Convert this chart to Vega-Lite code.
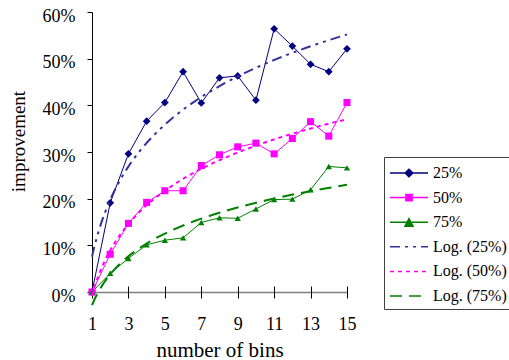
{
  "$schema": "https://vega.github.io/schema/vega-lite/v6.json",
  "width": 255,
  "height": 280,
  "autosize": {"type": "none"},
  "padding": {"left": 92, "top": 12, "right": 162, "bottom": 68},
  "background": "white",
  "config": {
    "font": "Liberation Serif",
    "view": {"stroke": null},
    "axis": {"labelFont": "Liberation Serif", "titleFont": "Liberation Serif", "labelColor": "#000", "titleColor": "#000", "titleFontWeight": "normal", "domainColor": "#000", "tickColor": "#000"}
  },
  "data": {
    "values": [
      {"x": 1, "series": "25%", "trend": "Log. (25%)", "value": 0},
      {"x": 2, "series": "25%", "trend": "Log. (25%)", "value": 19.1},
      {"x": 3, "series": "25%", "trend": "Log. (25%)", "value": 29.6},
      {"x": 4, "series": "25%", "trend": "Log. (25%)", "value": 36.6},
      {"x": 5, "series": "25%", "trend": "Log. (25%)", "value": 40.6},
      {"x": 6, "series": "25%", "trend": "Log. (25%)", "value": 47.2},
      {"x": 7, "series": "25%", "trend": "Log. (25%)", "value": 40.5},
      {"x": 8, "series": "25%", "trend": "Log. (25%)", "value": 45.9},
      {"x": 9, "series": "25%", "trend": "Log. (25%)", "value": 46.3},
      {"x": 10, "series": "25%", "trend": "Log. (25%)", "value": 41.1},
      {"x": 11, "series": "25%", "trend": "Log. (25%)", "value": 56.4},
      {"x": 12, "series": "25%", "trend": "Log. (25%)", "value": 52.7},
      {"x": 13, "series": "25%", "trend": "Log. (25%)", "value": 48.8},
      {"x": 14, "series": "25%", "trend": "Log. (25%)", "value": 47.2},
      {"x": 15, "series": "25%", "trend": "Log. (25%)", "value": 52.1},
      {"x": 1, "series": "50%", "trend": "Log. (50%)", "value": 0},
      {"x": 2, "series": "50%", "trend": "Log. (50%)", "value": 8.1},
      {"x": 3, "series": "50%", "trend": "Log. (50%)", "value": 14.7},
      {"x": 4, "series": "50%", "trend": "Log. (50%)", "value": 19.2},
      {"x": 5, "series": "50%", "trend": "Log. (50%)", "value": 21.7},
      {"x": 6, "series": "50%", "trend": "Log. (50%)", "value": 21.7},
      {"x": 7, "series": "50%", "trend": "Log. (50%)", "value": 27.1},
      {"x": 8, "series": "50%", "trend": "Log. (50%)", "value": 29.4},
      {"x": 9, "series": "50%", "trend": "Log. (50%)", "value": 31.1},
      {"x": 10, "series": "50%", "trend": "Log. (50%)", "value": 31.9},
      {"x": 11, "series": "50%", "trend": "Log. (50%)", "value": 29.6},
      {"x": 12, "series": "50%", "trend": "Log. (50%)", "value": 32.9},
      {"x": 13, "series": "50%", "trend": "Log. (50%)", "value": 36.5},
      {"x": 14, "series": "50%", "trend": "Log. (50%)", "value": 33.4},
      {"x": 15, "series": "50%", "trend": "Log. (50%)", "value": 40.6},
      {"x": 1, "series": "75%", "trend": "Log. (75%)", "value": 0},
      {"x": 2, "series": "75%", "trend": "Log. (75%)", "value": 4.0},
      {"x": 3, "series": "75%", "trend": "Log. (75%)", "value": 7.2},
      {"x": 4, "series": "75%", "trend": "Log. (75%)", "value": 10.1},
      {"x": 5, "series": "75%", "trend": "Log. (75%)", "value": 11.1},
      {"x": 6, "series": "75%", "trend": "Log. (75%)", "value": 11.6},
      {"x": 7, "series": "75%", "trend": "Log. (75%)", "value": 14.9},
      {"x": 8, "series": "75%", "trend": "Log. (75%)", "value": 15.9},
      {"x": 9, "series": "75%", "trend": "Log. (75%)", "value": 15.8},
      {"x": 10, "series": "75%", "trend": "Log. (75%)", "value": 17.8},
      {"x": 11, "series": "75%", "trend": "Log. (75%)", "value": 19.8},
      {"x": 12, "series": "75%", "trend": "Log. (75%)", "value": 19.9},
      {"x": 13, "series": "75%", "trend": "Log. (75%)", "value": 21.9},
      {"x": 14, "series": "75%", "trend": "Log. (75%)", "value": 26.9},
      {"x": 15, "series": "75%", "trend": "Log. (75%)", "value": 26.6}
    ]
  },
  "encoding": {
    "x": {
      "field": "x", "type": "quantitative",
      "scale": {"domain": [1, 15], "nice": false, "zero": false},
      "axis": {"title": "number of bins", "values": [1, 3, 5, 7, 9, 11, 13, 15], "offset": -6, "tickSize": 12, "domain": false, "grid": false, "labelFontSize": 18, "labelBaseline": "alphabetic", "labelPadding": 31, "labelFlush": false, "titleFontSize": 21, "titleBaseline": "alphabetic", "titleY": 70}
    },
    "y": {
      "field": "value", "type": "quantitative",
      "scale": {"domain": [0, 60], "nice": false},
      "axis": {"title": "improvement", "values": [0, 10, 20, 30, 40, 50, 60], "labelExpr": "datum.value + '%'", "tickSize": 5, "labelPadding": 12, "labelFontSize": 18, "labelBaseline": "alphabetic", "labelOffset": 9, "labelFlush": false, "titleFontSize": 19, "titleAngle": -90, "titleBaseline": "middle", "titleX": -74, "titleY": 129,
        "grid": true, "gridColor": {"condition": {"test": "datum.value === 0", "value": "#808080"}, "value": "transparent"}, "gridWidth": 1.5}
    }
  },
  "layer": [
    {
      "mark": {"type": "line", "strokeWidth": 1},
      "encoding": {
        "color": {
          "field": "series", "type": "nominal",
          "scale": {"domain": ["25%", "50%", "75%", "Log. (25%)", "Log. (50%)", "Log. (75%)"], "range": ["#000080", "#FF00FF", "#008000", "#333399", "#FF00FF", "#008000"]},
          "legend": {
            "title": null, "orient": "none", "legendX": 292, "legendY": 145,
            "strokeColor": "#404040", "fillColor": "white", "padding": 5,
            "labelFont": "Liberation Serif", "labelFontSize": 16, "labelColor": "#000", "labelOffset": 13,
            "symbolSize": 400, "symbolOffset": 9, "symbolStrokeWidth": 1.5, "rowPadding": 5.6,
            "encode": {
              "symbols": {
                "update": {
                  "shape": {"signal": "datum.value === '25%' ? 'M-1.9,0H1.9M0,-0.38L0.38,0L0,0.38L-0.38,0Z' : datum.value === '50%' ? 'M-1.9,0H1.9M-0.31,-0.31H0.31V0.31H-0.31Z' : datum.value === '75%' ? 'M-1.9,0H1.9M0,-0.36L0.4,0.4H-0.4Z' : 'M-1.9,0H1.9'"},
                  "strokeDash": {"signal": "datum.value === 'Log. (25%)' ? [10,5,3,5,3,5] : datum.value === 'Log. (50%)' ? [4,4] : datum.value === 'Log. (75%)' ? [12,7] : [1,0]"},
                  "fill": {"signal": "datum.value === '25%' ? '#000080' : datum.value === '50%' ? '#FF00FF' : datum.value === '75%' ? '#008000' : 'transparent'"}
                }
              }
            }
          }
        }
      }
    },
    {
      "mark": {"type": "point", "filled": true, "opacity": 1},
      "encoding": {
        "color": {"field": "series", "type": "nominal"},
        "shape": {"field": "series", "type": "nominal", "scale": {"domain": ["25%", "50%", "75%"], "range": ["diamond", "square", "triangle-up"]}, "legend": null},
        "size": {"field": "series", "type": "nominal", "scale": {"domain": ["25%", "50%", "75%"], "range": [60, 40, 64]}, "legend": null}
      }
    },
    {
      "transform": [{"regression": "value", "on": "x", "method": "log", "groupby": ["trend"], "extent": [1, 15]}],
      "mark": {"type": "line", "strokeWidth": 2},
      "encoding": {
        "color": {"field": "trend", "type": "nominal"},
        "strokeDash": {"field": "trend", "type": "nominal", "scale": {"domain": ["Log. (25%)", "Log. (50%)", "Log. (75%)"], "range": [[10, 5, 3, 5, 3, 5], [4, 4], [12, 7]]}, "legend": null}
      }
    }
  ]
}
